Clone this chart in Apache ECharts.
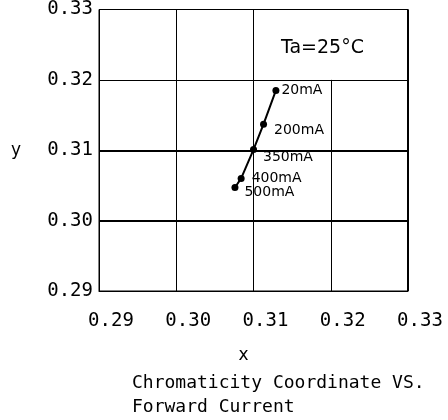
<!DOCTYPE html>
<html>
<head>
<meta charset="utf-8">
<script src="https://cdn.jsdelivr.net/npm/echarts@6/dist/echarts.min.js"></script>
<style>
html,body{margin:0;padding:0;background:#fff;}
#c{width:448px;height:420px;}
</style>
</head>
<body>
<div id="c"></div>
<script>
// ---- data ----
var currents = ['20mA', '200mA', '350mA', '400mA', '500mA'];
var xValues = [0.3129, 0.3113, 0.3100, 0.3084, 0.3076];
var yValues = [0.3185, 0.3137, 0.3101, 0.3060, 0.3047];
var xTicks = [0.29, 0.30, 0.31, 0.32, 0.33];
var yTicks = [0.29, 0.30, 0.31, 0.32, 0.33];
var annotation = 'Ta=25°C';
var chartTitle = 'Chromaticity Coordinate VS.\nForward Current';

// ---- styling / build ----
var FONT = 'DejaVu Sans';
var WIDE = 'DejaVu Sans Mono';
var labelOffsets = {
  '20mA': [0, 0], '200mA': [5, 6], '350mA': [4, 8], '400mA': [5, 0], '500mA': [4, 5]
};
var points = currents.map(function (c, i) {
  return {
    value: [xValues[i], yValues[i]],
    name: c,
    label: { offset: labelOffsets[c] }
  };
});

var xMin = xTicks[0], xMax = xTicks[xTicks.length - 1];
var yMin = yTicks[0], yMax = yTicks[yTicks.length - 1];
var gridLines = [];
// vertical interior lines
xTicks.slice(1, -1).forEach(function (t, i) {
  var top = (i === 2) ? yTicks[3] : yMax; // top-right cell is open for annotation
  gridLines.push([{ coord: [t, yMin], lineStyle: { width: 1 } }, { coord: [t, top] }]);
});
// horizontal interior lines
yTicks.slice(1, -1).forEach(function (t, i) {
  gridLines.push([{ coord: [xMin, t], lineStyle: { width: i === 2 ? 1 : 2 } }, { coord: [xMax, t] }]);
});
// heavier right border
gridLines.push([{ coord: [xMax, yMin], lineStyle: { width: 2 } }, { coord: [xMax, yMax] }]);

var chart = echarts.init(document.getElementById('c'), null, { renderer: 'canvas' });
chart.setOption({
  backgroundColor: '#fff',
  animation: false,
  textStyle: { fontFamily: FONT, color: '#000' },
  title: {
    text: chartTitle,
    left: 132, top: 371, padding: 0,
    textStyle: { fontFamily: WIDE, fontSize: 18, fontWeight: 'normal', color: '#000', lineHeight: 24 }
  },
  grid: {
    left: 99, right: 40, top: 8, bottom: 129,
    show: true, borderColor: '#000', borderWidth: 1, backgroundColor: 'transparent'
  },
  xAxis: {
    type: 'value', min: xMin, max: xMax, interval: 0.01,
    name: 'x', nameLocation: 'middle', nameGap: 56,
    nameTextStyle: { fontFamily: FONT, fontSize: 17, color: '#000', padding: [0, 20, 0, 0] },
    axisLine: { show: true, lineStyle: { color: '#000', width: 1 } },
    axisTick: { show: false },
    splitLine: { show: false },
    axisLabel: {
      fontFamily: WIDE, fontSize: 19, color: '#000', margin: 21,
      padding: [0, 0, 0, 24],
      formatter: function (v) { return v.toFixed(2); }
    }
  },
  yAxis: {
    type: 'value', min: yMin, max: yMax, interval: 0.01,
    name: 'y', nameLocation: 'middle', nameGap: 78, nameRotate: 0,
    nameTextStyle: { fontFamily: FONT, fontSize: 17, color: '#000' },
    axisLine: { show: true, lineStyle: { color: '#000', width: 1 } },
    axisTick: { show: false },
    splitLine: { show: false },
    axisLabel: {
      fontFamily: WIDE, fontSize: 19, color: '#000', margin: 6,
      formatter: function (v) { return v.toFixed(2); }
    }
  },
  graphic: [{
    type: 'text', left: 281, top: 39,
    style: { text: annotation, font: '19px "DejaVu Sans"', fill: '#000' }
  }],
  series: [{
    type: 'line',
    data: points,
    symbol: 'circle', symbolSize: 7,
    lineStyle: { color: '#000', width: 2 },
    itemStyle: { color: '#000' },
    label: {
      show: true, position: 'right', distance: 2,
      formatter: '{b}', fontFamily: FONT, fontSize: 14, color: '#000'
    },
    markLine: {
      silent: true, symbol: 'none', animation: false,
      label: { show: false },
      lineStyle: { color: '#000', type: 'solid', width: 1 },
      data: gridLines
    },
    z: 3
  }]
});
</script>
</body>
</html>
